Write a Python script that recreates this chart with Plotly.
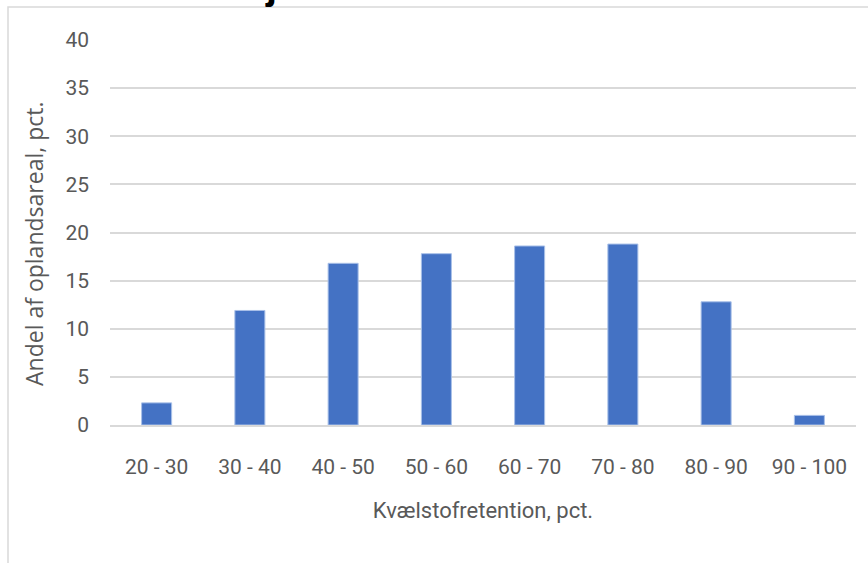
import plotly.graph_objects as go

# Share of catchment area by nitrogen retention class
categories = ["20 - 30", "30 - 40", "40 - 50", "50 - 60", "60 - 70", "70 - 80", "80 - 90", "90 - 100"]
share_pct = [2.3, 11.9, 16.8, 17.8, 18.6, 18.8, 12.8, 1.0]
y_ticks = [0, 5, 10, 15, 20, 25, 30, 35, 40]

W, H = 868, 563
L, R, T, B = 110, 12, 40, 138
pw, ph = W - L - R, H - T - B

def px_x(x):
    return (x - L) / pw

def px_y(y):
    return (H - B - y) / ph

fig = go.Figure(
    go.Bar(
        x=categories,
        y=share_pct,
        marker=dict(color="#4472C4", line=dict(color="#a9c0e8", width=1)),
        hoverinfo="x+y",
    )
)

tick_font = dict(family="Roboto, sans-serif", size=21, color="#595959")

fig.update_layout(
    width=W,
    height=H,
    margin=dict(l=L, r=R, t=T, b=B),
    paper_bgcolor="white",
    plot_bgcolor="white",
    bargap=0.678,
    showlegend=False,
    xaxis=dict(
        showgrid=False,
        showline=True,
        linecolor="#d9d9d9",
        linewidth=2,
        ticks="",
        tickfont=tick_font,
        ticklabelstandoff=22,
        title=dict(
            text="Kvælstofretention, pct.",
            font=dict(family="Roboto, sans-serif", size=22, color="#595959"),
            standoff=24,
        ),
    ),
    yaxis=dict(
        range=[0, 40],
        tickvals=y_ticks,
        showgrid=True,
        gridcolor="#d9d9d9",
        gridwidth=2,
        zeroline=False,
        showline=False,
        ticks="",
        tickfont=tick_font,
        ticklabelstandoff=20,
    ),
    shapes=[
        # outer chart frame
        dict(
            type="rect",
            xref="paper",
            yref="paper",
            x0=px_x(8),
            x1=px_x(880),
            y0=px_y(580),
            y1=px_y(7),
            line=dict(color="#d9d9d9", width=1.5),
            fillcolor="rgba(0,0,0,0)",
            layer="below",
        )
    ],
    annotations=[
        # y-axis title
        dict(
            text="Andel af oplandsareal, pct.",
            xref="paper",
            yref="paper",
            x=px_x(34),
            y=px_y(244),
            xanchor="center",
            yanchor="middle",
            textangle=-90,
            showarrow=False,
            font=dict(family="Open Sans, sans-serif", size=23, color="#595959"),
        ),
        # lower part of the bold chart title, above the frame
        dict(
            text="<b>j</b>",
            xref="paper",
            yref="paper",
            x=px_x(271),
            y=px_y(9),
            xanchor="center",
            yanchor="bottom",
            showarrow=False,
            font=dict(family="Liberation Sans, Arial, sans-serif", size=40, color="black"),
        ),
    ],
)

fig.write_html("out.html")
